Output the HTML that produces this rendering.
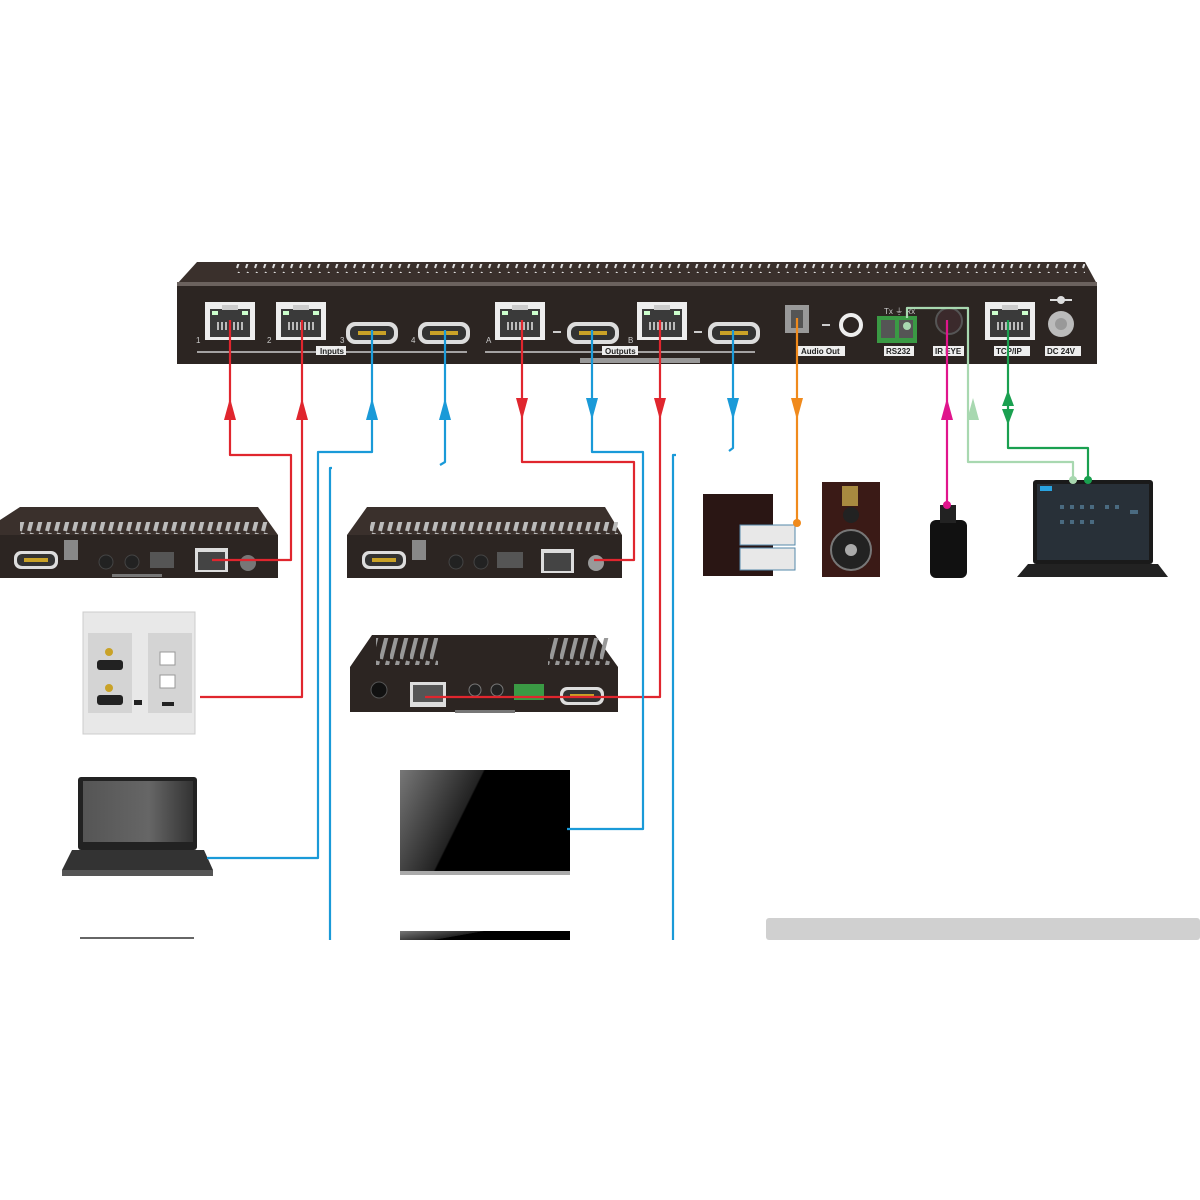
<!DOCTYPE html>
<html><head><meta charset="utf-8"><style>
html,body{margin:0;padding:0;background:#fff;}
svg{display:block;font-family:"Liberation Sans",sans-serif;}
</style></head><body>
<svg width="1200" height="1200" viewBox="0 0 1200 1200" xmlns="http://www.w3.org/2000/svg">
<defs>
<pattern id="vent" width="9" height="10" patternUnits="userSpaceOnUse"><path d="M3 8 L5 2" stroke="#ddd" stroke-width="2"/></pattern>
<pattern id="vent2" width="9" height="14" patternUnits="userSpaceOnUse"><path d="M2 13 L5 1" stroke="#bbb" stroke-width="4"/></pattern>
<pattern id="vent3" width="10" height="30" patternUnits="userSpaceOnUse"><path d="M1 29 L8 1" stroke="#999" stroke-width="4"/></pattern>
<linearGradient id="tv" x1="0" y1="0" x2="1" y2="0.3"><stop offset="0" stop-color="#777"/><stop offset="0.45" stop-color="#222"/><stop offset="0.46" stop-color="#000"/><stop offset="1" stop-color="#000"/></linearGradient>
<linearGradient id="scr" x1="0" y1="0" x2="1" y2="0"><stop offset="0" stop-color="#555"/><stop offset="0.6" stop-color="#666"/><stop offset="1" stop-color="#333"/></linearGradient>
<g id="rj"><rect x="0" y="0" width="50" height="38" fill="#eee"/><rect x="5" y="7" width="40" height="28" fill="#3a3a3a"/><rect x="17" y="3" width="16" height="5" fill="#ccc"/><rect x="7" y="9" width="6" height="4" fill="#cfc"/><rect x="37" y="9" width="6" height="4" fill="#cfc"/><path d="M12 24h26" stroke="#bbb" stroke-width="8" stroke-dasharray="2 2"/></g>
<g id="hd"><rect x="0" y="0" width="52" height="22" rx="9" fill="#ddd"/><rect x="4" y="4" width="44" height="14" rx="6" fill="#333"/><rect x="12" y="9" width="28" height="4" fill="#c9a227"/></g>
<g id="hds"><rect x="0" y="0" width="44" height="18" rx="7" fill="#ddd"/><rect x="3" y="3" width="38" height="12" rx="5" fill="#333"/><rect x="10" y="7" width="24" height="4" fill="#c9a227"/></g>
</defs>

<!-- Main device -->
<polygon points="197,262 1085,262 1097,284 177,284" fill="#3a302c"/>
<rect x="235" y="264" width="850" height="9" fill="url(#vent)"/>
<rect x="177" y="282" width="920" height="4" fill="#6b625e"/>
<rect x="177" y="286" width="920" height="78" fill="#2c2522"/>
<use href="#rj" x="205" y="302"/>
<use href="#rj" x="276" y="302"/>
<use href="#hd" x="346" y="322"/>
<use href="#hd" x="418" y="322"/>
<use href="#rj" x="495" y="302"/>
<use href="#hd" x="567" y="322"/>
<use href="#rj" x="637" y="302"/>
<use href="#hd" x="708" y="322"/>
<g fill="#ccc" font-size="8"><text x="196" y="343">1</text><text x="267" y="343">2</text><text x="340" y="343">3</text><text x="411" y="343">4</text><text x="486" y="343">A</text><text x="628" y="343">B</text></g>
<path d="M553 332h8M694 332h8M822 325h8" stroke="#ccc" stroke-width="2"/>
<path d="M197 352h270M485 352h270" stroke="#ccc" stroke-width="1.5"/>
<rect x="316" y="346" width="30" height="9" fill="#eee"/><text x="320" y="354" font-size="8" font-weight="bold" fill="#222">Inputs</text>
<rect x="602" y="346" width="36" height="9" fill="#eee"/><text x="605" y="354" font-size="8" font-weight="bold" fill="#222">Outputs</text>
<rect x="580" y="358" width="120" height="5" fill="#999"/>
<rect x="785" y="305" width="24" height="28" fill="#999"/><rect x="791" y="310" width="12" height="18" fill="#555"/>
<circle cx="851" cy="325" r="10" fill="none" stroke="#eee" stroke-width="4"/>
<rect x="798" y="346" width="47" height="10" fill="#eee"/><text x="801" y="354" font-size="8" font-weight="bold" fill="#222">Audio Out</text>
<text x="884" y="314" font-size="8" fill="#ccc">Tx  ⏚  Rx</text>
<rect x="877" y="316" width="40" height="27" fill="#3a9a44"/><rect x="881" y="320" width="14" height="18" fill="#555"/><rect x="899" y="320" width="14" height="18" fill="#555"/>
<rect x="884" y="346" width="30" height="10" fill="#eee"/><text x="886" y="354" font-size="8" font-weight="bold" fill="#222">RS232</text>
<circle cx="949" cy="321" r="13" fill="#3b2a2c" stroke="#555" stroke-width="2"/>
<rect x="933" y="346" width="31" height="10" fill="#eee"/><text x="935" y="354" font-size="8" font-weight="bold" fill="#222">IR EYE</text>
<use href="#rj" x="985" y="302"/>
<rect x="994" y="346" width="36" height="10" fill="#eee"/><text x="996" y="354" font-size="8" font-weight="bold" fill="#222">TCP/IP</text>
<circle cx="1061" cy="324" r="13" fill="#bbb"/><circle cx="1061" cy="324" r="6" fill="#999"/>
<path d="M1050 300h22" stroke="#ddd" stroke-width="2"/><circle cx="1061" cy="300" r="4" fill="#ddd"/>
<rect x="1045" y="346" width="36" height="10" fill="#eee"/><text x="1047" y="354" font-size="8" font-weight="bold" fill="#222">DC 24V</text>

<!-- Top-left extender -->
<polygon points="20,507 258,507 278,535 0,535 0,520" fill="#3a302c"/>
<rect x="20" y="522" width="250" height="12" fill="url(#vent2)"/>
<rect x="0" y="535" width="278" height="43" fill="#2c2522"/>
<use href="#hds" x="14" y="551"/>
<rect x="64" y="540" width="14" height="20" fill="#888"/>
<circle cx="106" cy="562" r="7" fill="#222" stroke="#444"/><circle cx="132" cy="562" r="7" fill="#222" stroke="#444"/>
<rect x="150" y="552" width="24" height="16" fill="#555"/>
<rect x="195" y="548" width="33" height="24" fill="#ddd"/><rect x="198" y="552" width="27" height="18" fill="#444"/>
<circle cx="248" cy="563" r="8" fill="#777"/>
<rect x="112" y="574" width="50" height="3" fill="#777"/>
<!-- Middle extender -->
<polygon points="367,507 605,507 622,535 347,535" fill="#3a302c"/>
<rect x="370" y="522" width="248" height="12" fill="url(#vent2)"/>
<rect x="347" y="535" width="275" height="43" fill="#2c2522"/>
<use href="#hds" x="362" y="551"/>
<rect x="412" y="540" width="14" height="20" fill="#888"/>
<circle cx="456" cy="562" r="7" fill="#222" stroke="#444"/><circle cx="481" cy="562" r="7" fill="#222" stroke="#444"/>
<rect x="497" y="552" width="26" height="16" fill="#555"/>
<rect x="541" y="549" width="33" height="24" fill="#ddd"/><rect x="544" y="553" width="27" height="18" fill="#444"/>
<circle cx="596" cy="563" r="8" fill="#999"/>
<!-- Receiver -->
<polygon points="372,635 595,635 618,667 350,667" fill="#2c2522"/>
<rect x="376" y="638" width="62" height="27" fill="url(#vent3)"/><rect x="548" y="638" width="62" height="27" fill="url(#vent3)"/>
<rect x="350" y="667" width="268" height="45" fill="#2c2522"/>
<circle cx="379" cy="690" r="8" fill="#111" stroke="#555"/>
<rect x="410" y="682" width="36" height="25" fill="#ddd"/><rect x="413" y="685" width="30" height="17" fill="#555"/>
<circle cx="475" cy="690" r="6" fill="#222" stroke="#777"/><circle cx="497" cy="690" r="6" fill="#222" stroke="#777"/>
<rect x="514" y="684" width="30" height="16" fill="#3a9a44"/>
<use href="#hds" x="560" y="687"/>
<rect x="455" y="710" width="60" height="3" fill="#777"/>

<!-- Wall plate -->
<rect x="83" y="612" width="112" height="122" fill="#e8e8e8" stroke="#ccc"/>
<rect x="88" y="633" width="44" height="80" fill="#d4d4d4"/><rect x="148" y="633" width="44" height="80" fill="#d4d4d4"/>
<rect x="97" y="660" width="26" height="10" rx="3" fill="#222"/><rect x="97" y="695" width="26" height="10" rx="3" fill="#222"/>
<circle cx="109" cy="652" r="4" fill="#c9a227"/><circle cx="109" cy="688" r="4" fill="#c9a227"/>
<rect x="160" y="652" width="15" height="13" fill="#fff" stroke="#999"/><rect x="160" y="675" width="15" height="13" fill="#fff" stroke="#999"/>
<rect x="162" y="702" width="12" height="4" fill="#222"/><rect x="134" y="700" width="8" height="5" fill="#222"/>

<!-- Laptop left -->
<rect x="78" y="777" width="119" height="73" rx="3" fill="#222"/><rect x="83" y="781" width="110" height="61" fill="url(#scr)"/>
<polygon points="72,850 204,850 213,870 62,870" fill="#333"/><rect x="62" y="870" width="151" height="6" fill="#555"/>
<!-- TV -->
<rect x="400" y="770" width="170" height="103" fill="url(#tv)"/><rect x="400" y="871" width="170" height="4" fill="#aaa"/>
<rect x="400" y="931" width="170" height="9" fill="url(#tv)"/>
<rect x="80" y="937" width="114" height="2" fill="#666"/>
<rect x="766" y="918" width="434" height="22" rx="3" fill="#d0d0d0"/>

<!-- Speakers -->
<rect x="703" y="494" width="70" height="82" fill="#2a1614"/>
<rect x="740" y="525" width="55" height="20" fill="#e8e8e8" stroke="#58a"/><rect x="740" y="548" width="55" height="22" fill="#e8e8e8" stroke="#58a"/>
<rect x="822" y="482" width="58" height="95" fill="#3a1a16"/>
<rect x="842" y="486" width="16" height="20" fill="#a88a40"/>
<circle cx="851" cy="515" r="8" fill="#222"/><circle cx="851" cy="550" r="20" fill="#222" stroke="#777" stroke-width="2"/><circle cx="851" cy="550" r="6" fill="#aaa"/>
<!-- IR -->
<rect x="930" y="520" width="37" height="58" rx="6" fill="#111"/><rect x="940" y="505" width="16" height="18" fill="#222"/>
<!-- Laptop right -->
<rect x="1033" y="480" width="120" height="84" rx="3" fill="#1a1a1a"/><rect x="1037" y="484" width="112" height="76" fill="#283038"/>
<rect x="1040" y="486" width="12" height="5" fill="#29a3e0"/>
<g fill="#4a6a80"><rect x="1060" y="505" width="4" height="4"/><rect x="1070" y="505" width="4" height="4"/><rect x="1080" y="505" width="4" height="4"/><rect x="1090" y="505" width="4" height="4"/><rect x="1060" y="520" width="4" height="4"/><rect x="1070" y="520" width="4" height="4"/><rect x="1080" y="520" width="4" height="4"/><rect x="1090" y="520" width="4" height="4"/><rect x="1105" y="505" width="4" height="4"/><rect x="1115" y="505" width="4" height="4"/><rect x="1130" y="510" width="8" height="4"/></g>
<polygon points="1028,564 1158,564 1168,577 1017,577" fill="#222"/>

<!-- Connectors -->
<g fill="none" stroke-width="2.2" stroke-linejoin="round">
<path d="M230 320V455H291V560H212" stroke="#e0262e"/>
<path d="M302 320V697H200" stroke="#e0262e"/>
<path d="M522 320V462H634V560H594" stroke="#e0262e"/>
<path d="M660 320V697H425" stroke="#e0262e"/>
<path d="M372 330V452H318V858H207" stroke="#1a9ad8"/>
<path d="M332 468H330V940" stroke="#1a9ad8"/>
<path d="M445 330V462L440 465" stroke="#1a9ad8"/>
<path d="M592 330V452H643V829H567" stroke="#1a9ad8"/>
<path d="M676 455H673V940" stroke="#1a9ad8"/>
<path d="M733 330V448L729 451" stroke="#1a9ad8"/>
<path d="M797 318V523" stroke="#f08a1c"/>
<path d="M947 320V505" stroke="#e0158c"/>
<path d="M907 318V308H968V462H1073V480" stroke="#a8d8b0"/>
<path d="M1008 320V448H1088V480" stroke="#1aa050"/>
</g>
<g>
<polygon points="230,398 224,420 236,420" fill="#e0262e"/>
<polygon points="302,398 296,420 308,420" fill="#e0262e"/>
<polygon points="372,398 366,420 378,420" fill="#1a9ad8"/>
<polygon points="445,398 439,420 451,420" fill="#1a9ad8"/>
<polygon points="522,420 516,398 528,398" fill="#e0262e"/>
<polygon points="592,420 586,398 598,398" fill="#1a9ad8"/>
<polygon points="660,420 654,398 666,398" fill="#e0262e"/>
<polygon points="733,420 727,398 739,398" fill="#1a9ad8"/>
<polygon points="797,420 791,398 803,398" fill="#f08a1c"/>
<polygon points="947,398 941,420 953,420" fill="#e0158c"/>
<polygon points="973,398 967,420 979,420" fill="#a8d8b0"/>
<polygon points="1008,390 1002,406 1014,406" fill="#1aa050"/>
<polygon points="1008,425 1002,409 1014,409" fill="#1aa050"/>
<circle cx="797" cy="523" r="4" fill="#f08a1c"/><circle cx="947" cy="505" r="4" fill="#e0158c"/>
<circle cx="1073" cy="480" r="4" fill="#a8d8b0"/><circle cx="1088" cy="480" r="4" fill="#1aa050"/>
<circle cx="907" cy="326" r="4" fill="#a8d8b0"/>
</g>
</svg>
</body></html>
